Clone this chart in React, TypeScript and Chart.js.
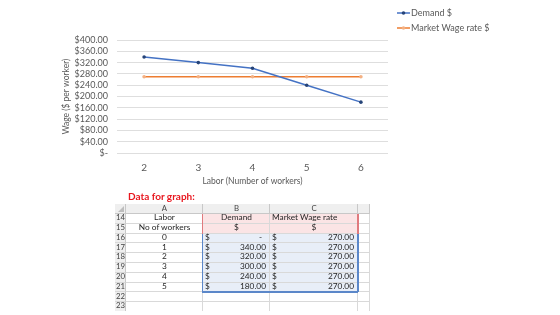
import { useEffect, useRef } from "react";
import { Chart, registerables } from "chart.js";

Chart.register(...registerables);

// Chart series
const laborLabels = ["2", "3", "4", "5", "6"];
const demandValues = [340, 320, 300, 240, 180];
const marketWageValues = [270, 270, 270, 270, 270];
const seriesNames = ["Demand $", "Market Wage rate $"];
const yAxisMax = 400;
const yAxisStep = 40;

// Worksheet block shown under the chart
const sheetRowNumbers = [14, 15, 16, 17, 18, 19, 20, 21, 22, 23];
const sheetColumnLetters = ["A", "B", "C"];
const sheetHeaderNames = ["Labor", "Demand", "Market Wage rate"];
const sheetHeaderUnits = ["No of workers", "$", "$"];
const sheetWorkers = [0, 1, 2, 3, 4, 5];
const sheetDemand = [0, 340, 320, 300, 240, 180];
const sheetMarketWage = [270, 270, 270, 270, 270, 270];

const FONT = "Lato, 'Open Sans', sans-serif";
const TEXT_GRAY = "#595959";

const cornerLegend = {
  id: "cornerLegend",
  afterDraw(chart: any) {
    const ctx = chart.ctx as CanvasRenderingContext2D;
    chart.data.datasets.forEach((ds: any, i: number) => {
      const y = 13 + i * 15;
      ctx.save();
      ctx.strokeStyle = ds.borderColor;
      ctx.lineWidth = 1.5;
      ctx.beginPath();
      ctx.moveTo(397, y);
      ctx.lineTo(410, y);
      ctx.stroke();
      ctx.fillStyle = ds.pointBackgroundColor;
      ctx.beginPath();
      ctx.arc(403.5, y, 1.8, 0, Math.PI * 2);
      ctx.fill();
      ctx.fillStyle = TEXT_GRAY;
      ctx.font = `9px ${FONT}`;
      ctx.textBaseline = "middle";
      ctx.textAlign = "left";
      ctx.fillText(ds.label, 411, y);
      ctx.restore();
    });
  },
};

function WageChart() {
  const ref = useRef<HTMLCanvasElement | null>(null);
  useEffect(() => {
    if (!ref.current) return;
    const chart = new Chart(ref.current, {
      type: "line",
      data: {
        labels: laborLabels,
        datasets: [
          {
            label: seriesNames[0],
            data: demandValues,
            borderColor: "#4472C4",
            borderWidth: 1.5,
            pointBackgroundColor: "#264478",
            pointBorderColor: "#264478",
            pointRadius: 1.8,
            pointBorderWidth: 0,
            tension: 0,
          },
          {
            label: seriesNames[1],
            data: marketWageValues,
            borderColor: "#ED7D31",
            borderWidth: 1.5,
            pointBackgroundColor: "#F4B183",
            pointBorderColor: "#F4B183",
            pointRadius: 1.8,
            pointBorderWidth: 0,
            tension: 0,
          },
        ],
      },
      options: {
        responsive: false,
        animation: false,
        layout: { padding: { left: 57, right: 172, top: 40, bottom: 10 } },
        plugins: {
          legend: { display: false },
          tooltip: { enabled: false },
        },
        scales: {
          x: {
            offset: true,
            grid: { display: false },
            border: { display: false },
            ticks: {
              color: TEXT_GRAY,
              font: { family: FONT, size: 10 },
              padding: 1,
            },
            title: {
              display: true,
              text: "Labor (Number of workers)",
              color: TEXT_GRAY,
              font: { family: FONT, size: 8.5 },
              padding: { top: 2, bottom: 4 },
            },
            afterFit(scale: any) {
              scale.height = 37;
            },
          },
          y: {
            min: 0,
            max: yAxisMax,
            grid: { color: "#DEDEDE", drawTicks: false, lineWidth: 1 },
            border: { display: false },
            ticks: {
              stepSize: yAxisStep,
              autoSkip: false,
              color: TEXT_GRAY,
              font: { family: FONT, size: 9 },
              padding: 9,
              callback: (v: any) => (Number(v) === 0 ? "$-" : "$" + Number(v).toFixed(2)),
            },
            title: {
              display: true,
              text: "Wage ($ per worker)",
              color: TEXT_GRAY,
              font: { family: FONT, size: 8.5 },
              padding: { top: 4, bottom: 4 },
            },
            afterFit(scale: any) {
              scale.width = 60;
            },
          },
        },
      },
      plugins: [cornerLegend],
    });
    return () => chart.destroy();
  }, []);
  return (
    <canvas
      ref={ref}
      width={560}
      height={200}
      style={{ position: "absolute", left: 0, top: 0, width: 560, height: 200 }}
    />
  );
}

// Worksheet geometry
const colEdges = [115, 126, 203, 270, 358, 370];
const headerTop = 204;
const headerH = 10;
const rowTop = 214;
const rowH = 9.8;

const cellText: React.CSSProperties = {
  position: "absolute",
  fontFamily: FONT,
  fontSize: 8.3,
  color: "#262626",
  whiteSpace: "nowrap",
  overflow: "visible",
  boxSizing: "border-box",
};

function money(v: number) {
  return v === 0 ? "-" : v.toFixed(2);
}

function Sheet() {
  const els: any[] = [];
  const gridLine = "#D9D9D9";
  const headBg = "#EFEFEF";
  const headLine = "#C8C8C8";
  const textTop = -0.8;

  // corner
  els.push(
    <div key="corner" style={{ position: "absolute", left: colEdges[0], top: headerTop, width: colEdges[1] - colEdges[0], height: headerH, background: headBg, borderRight: `1px solid ${headLine}`, borderBottom: `1px solid ${headLine}`, boxSizing: "border-box" }}>
      <div style={{ position: "absolute", right: 1, bottom: 1, width: 0, height: 0, borderLeft: "6px solid transparent", borderBottom: "6px solid #BDBDBD" }} />
    </div>
  );
  // column letters
  for (let c = 0; c < 4; c++) {
    const left = colEdges[c + 1];
    const width = colEdges[c + 2] - left;
    els.push(
      <div key={"ch" + c} style={{ position: "absolute", left, top: headerTop, width, height: headerH, background: headBg, borderRight: `1px solid ${headLine}`, borderBottom: `1px solid ${headLine}`, boxSizing: "border-box" }}>
        <div style={{ ...cellText, left: 0, top: textTop, width, lineHeight: headerH + "px", textAlign: "center", color: "#444", fontSize: 7.8 }}>
          {sheetColumnLetters[c] ?? ""}
        </div>
      </div>
    );
  }
  // rows
  sheetRowNumbers.forEach((rn, r) => {
    const top = rowTop + r * rowH;
    els.push(
      <div key={"rn" + r} style={{ position: "absolute", left: colEdges[0], top, width: colEdges[1] - colEdges[0], height: rowH, background: headBg, borderRight: `1px solid ${headLine}`, borderBottom: `1px solid ${gridLine}`, boxSizing: "border-box" }}>
        <div style={{ ...cellText, left: 0, top: textTop, width: colEdges[1] - colEdges[0], lineHeight: rowH + "px", textAlign: "center", color: "#444", fontSize: 7.8 }}>
          {rn}
        </div>
      </div>
    );
    for (let c = 0; c < 4; c++) {
      const left = colEdges[c + 1];
      const width = colEdges[c + 2] - left;
      let bg = "#FFFFFF";
      if (c === 1 || c === 2) {
        if (r < 2) bg = "#FBE4E5";
        else if (r < 8) bg = "#E8EEF8";
      }
      let content: any = null;
      if (r === 0 && c < 3) {
        content = (
          <div style={{ ...cellText, left: c === 2 ? 2 : 0, top: textTop, width: c === 2 ? undefined : width, lineHeight: rowH + "px", textAlign: "center" }}>
            {sheetHeaderNames[c]}
          </div>
        );
      } else if (r === 1 && c < 3) {
        content = (
          <div style={{ ...cellText, left: 0, top: textTop, width, lineHeight: rowH + "px", textAlign: "center" }}>
            {sheetHeaderUnits[c]}
          </div>
        );
      } else if (r >= 2 && r < 8 && c < 3) {
        const i = r - 2;
        if (c === 0) {
          content = (
            <div style={{ ...cellText, left: 0, top: textTop, width, lineHeight: rowH + "px", textAlign: "center" }}>
              {sheetWorkers[i]}
            </div>
          );
        } else {
          const v = c === 1 ? sheetDemand[i] : sheetMarketWage[i];
          content = (
            <>
              <div style={{ ...cellText, left: 2, top: textTop, lineHeight: rowH + "px" }}>$</div>
              <div style={{ ...cellText, right: v === 0 ? 7 : 3, top: textTop, lineHeight: rowH + "px", textAlign: "right" }}>{money(v)}</div>
            </>
          );
        }
      }
      els.push(
        <div key={`c${r}-${c}`} style={{ position: "absolute", left, top, width, height: rowH, background: bg, borderRight: `1px solid ${gridLine}`, borderBottom: `1px solid ${gridLine}`, boxSizing: "border-box" }}>
          {content}
        </div>
      );
    }
  });
  // selection-style range borders
  const bLeft = colEdges[2];
  const bRight = colEdges[4];
  els.push(<div key="pinkL" style={{ position: "absolute", left: bLeft - 1, top: rowTop, width: 1, height: rowH * 2, background: "#E07A7E" }} />);
  els.push(<div key="pinkR" style={{ position: "absolute", left: bRight - 1, top: rowTop, width: 1.5, height: rowH * 2, background: "#E07A7E" }} />);
  els.push(<div key="blueL" style={{ position: "absolute", left: bLeft - 1, top: rowTop + rowH * 2, width: 1, height: rowH * 6, background: "#5B87C9" }} />);
  els.push(<div key="blueR" style={{ position: "absolute", left: bRight - 1, top: rowTop + rowH * 2, width: 1.5, height: rowH * 6, background: "#5B87C9" }} />);
  els.push(<div key="blueB" style={{ position: "absolute", left: bLeft - 1, top: rowTop + rowH * 8 - 1, width: bRight - bLeft + 1, height: 1.5, background: "#5B87C9" }} />);

  return (
    <div style={{ position: "absolute", left: 0, top: 0, width: 560, height: 311, overflow: "hidden" }}>
      <div style={{ position: "absolute", left: 128, top: 190, height: 12, lineHeight: "12px", fontFamily: FONT, fontWeight: 700, fontSize: 10, color: "#E8161E", whiteSpace: "nowrap" }}>
        Data for graph:
      </div>
      {els}
    </div>
  );
}

export default function App() {
  return (
    <div style={{ position: "fixed", left: 0, top: 0, width: 560, height: 315, background: "#FFFFFF", overflow: "hidden" }}>
      <WageChart />
      <Sheet />
    </div>
  );
}
